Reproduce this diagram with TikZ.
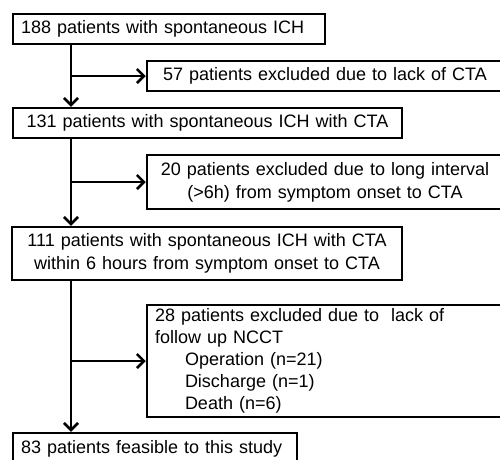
\documentclass[tikz,border=0pt]{standalone}
\usepackage{fontspec}
\setmainfont{Liberation Sans}
\usetikzlibrary{arrows.meta,calc}
\begin{document}
\begin{tikzpicture}[x=1pt,y=-1pt,
  box/.style={draw,line width=2.5pt,rectangle,inner xsep=8pt,inner ysep=0pt,
    font=\fontsize{18}{23}\selectfont},
  lbox/.style={box,align=left},
  cbox/.style={box,align=center},
  arr/.style={line width=2.5pt,-{Straight Barb[length=7pt,width=14pt,line width=2.5pt]}}]
\useasboundingbox (0,0) rectangle (500,459);
\clip (0,0) rectangle (500,459);
\node[lbox,minimum width=312pt,minimum height=30pt,text width=296pt] (b1) at (169,29)
  {188 patients with spontaneous ICH};
\node[cbox,minimum width=356pt,minimum height=30pt,text width=340pt] (b2) at (325,76)
  {57 patients excluded due to lack of CTA};
\node[cbox,minimum width=389pt,minimum height=30pt,text width=373pt] (b3) at (207.5,123)
  {131 patients with spontaneous ICH with CTA};
\node[cbox,minimum width=356pt,minimum height=54pt,text width=340pt] (b4) at (325,182)
  {20 patients excluded due to long interval\\(>6h) from symptom onset to CTA};
\node[cbox,minimum width=390pt,minimum height=53pt,text width=374pt] (b5) at (207,253.5)
  {111 patients with spontaneous ICH with CTA\\within 6 hours from symptom onset to CTA};
\node[lbox,minimum width=356pt,minimum height=112pt,text width=340pt,
  font=\fontsize{18}{22}\selectfont] (b6) at (325,361)
  {28 patients excluded due to\ \ lack of\\follow up NCCT\\
   \hspace*{30pt}Operation (n=21)\\\hspace*{30pt}Discharge (n=1)\\\hspace*{30pt}Death (n=6)};
\node[lbox,minimum width=284pt,minimum height=32pt,text width=268pt] (b7) at (155,449)
  {83 patients feasible to this study};
\coordinate (sp) at (71,0);
\draw[arr] (b1.south -| sp) -- (b3.north -| sp);
\draw[arr] (b3.south -| sp) -- (b5.north -| sp);
\draw[arr] (b5.south -| sp) -- (b7.north -| sp);
\draw[arr] (b2.west -| sp) -- (b2.west);
\draw[arr] (b4.west -| sp) -- (b4.west);
\draw[arr] (b6.west -| sp) -- (b6.west);
\end{tikzpicture}
\end{document}
